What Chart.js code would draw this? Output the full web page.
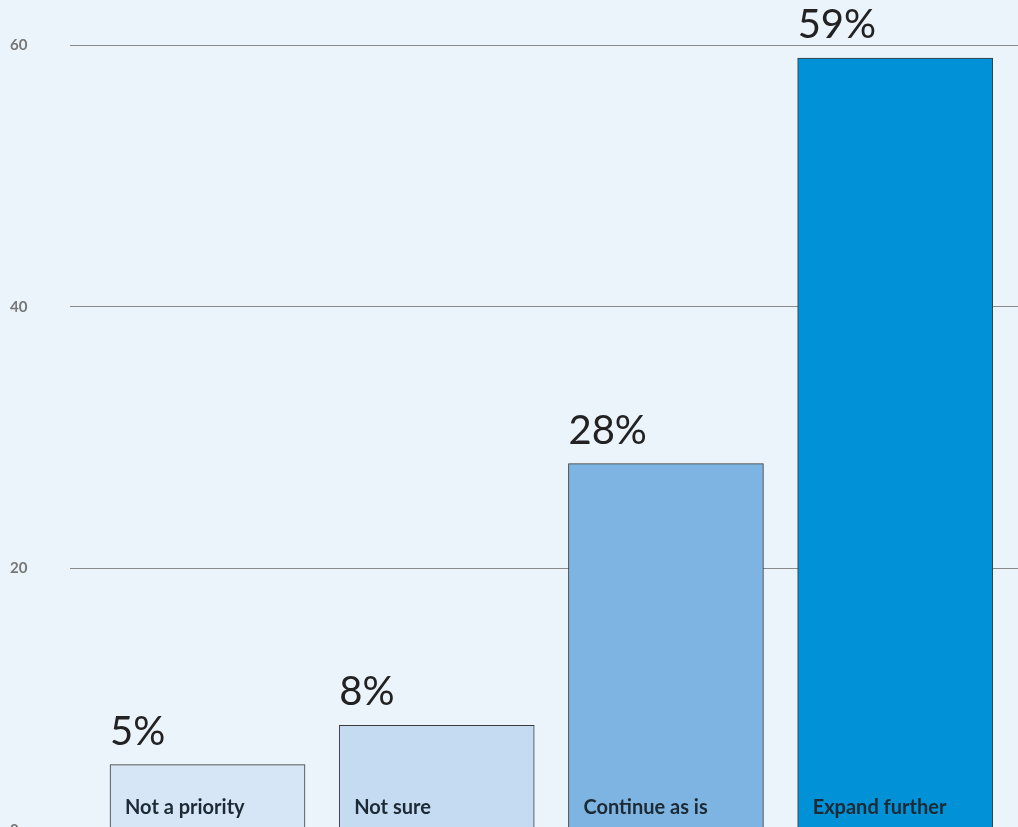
<!DOCTYPE html>
<html>
<head>
<meta charset="utf-8">
<script src="https://cdn.jsdelivr.net/npm/chart.js@4"></script>
<style>
  html, body { margin: 0; padding: 0; background: #ebf3fb; overflow: hidden; }
  #wrap { width: 1018px; height: 850px; }
</style>
</head>
<body>
<div id="wrap"><canvas id="chart" width="1018" height="850"></canvas></div>
<script>
// Datos del gráfico
const categories = ['Not a priority', 'Not sure', 'Continue as is', 'Expand further'];
const shares = [5, 8, 28, 59];
const barColors = ['#d6e6f6', '#c4dbf1', '#7db4e1', '#0091d7'];
const yTicks = [0, 20, 40, 60];

const FONT = 'Lato, "Noto Sans", sans-serif';

// Etiquetas: porcentaje encima de la barra y categoría dentro de la barra
const barLabels = {
    id: 'barLabels',
    afterDatasetsDraw(chart) {
        const ctx = chart.ctx;
        const meta = chart.getDatasetMeta(0);
        const bottom = chart.chartArea.bottom;
        ctx.save();
        ctx.textAlign = 'left';
        ctx.textBaseline = 'alphabetic';
        meta.data.forEach((bar, i) => {
            const left = bar.x - bar.width / 2;
            ctx.fillStyle = '#222222';
            ctx.font = '40px ' + FONT;
            ctx.fillText(shares[i] + '%', left, bar.y - 20);
            ctx.fillStyle = '#1d2a35';
            ctx.font = 'bold 20px ' + FONT;
            ctx.fillText(categories[i], left + 15, bottom - 16);
        });
        ctx.restore();
    }
};

new Chart(document.getElementById('chart').getContext('2d'), {
    type: 'bar',
    data: {
        labels: categories,
        datasets: [{
            data: shares.map((v, i) => ({ x: i, y: v })),
            backgroundColor: barColors,
            borderColor: '#3a3a3a',
            borderWidth: 1,
            barThickness: 195
        }]
    },
    options: {
        responsive: false,
        animation: false,
        layout: { padding: { left: 10, top: 45, right: 0, bottom: 20 } },
        plugins: { legend: { display: false }, tooltip: { enabled: false } },
        scales: {
            x: {
                type: 'linear',
                display: false,
                offset: false,
                min: -0.6,
                max: 3.536,
                grid: { offset: false }
            },
            y: {
                min: 0,
                max: 60,
                afterBuildTicks(scale) {
                    scale.ticks = yTicks.map(v => ({ value: v }));
                },
                afterFit(scale) { scale.width = 60; },
                border: { display: false },
                grid: { color: '#8a8a8a', lineWidth: 1, drawTicks: false },
                ticks: {
                    crossAlign: 'far',
                    color: '#777777',
                    font: { family: FONT, size: 15, weight: 'bold' }
                }
            }
        }
    },
    plugins: [barLabels]
});
</script>
</body>
</html>
